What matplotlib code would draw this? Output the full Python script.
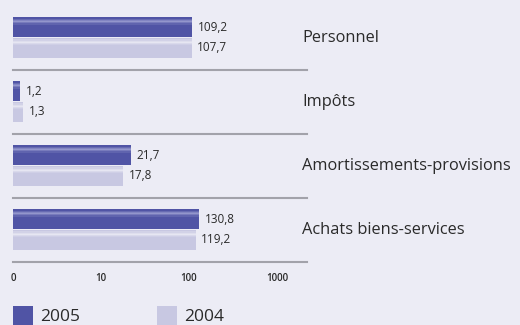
import matplotlib
matplotlib.use("Agg")
import matplotlib.pyplot as plt
from matplotlib.patches import Rectangle
import numpy as np

plt.rcParams['font.family'] = ['Open Sans', 'DejaVu Sans']

categories = ["Personnel", "Impôts", "Amortissements-provisions", "Achats biens-services"]
values_2005 = [109.2, 1.2, 21.7, 130.8]
values_2004 = [107.7, 1.3, 17.8, 119.2]
labels_2005 = ["109,2", "1,2", "21,7", "130,8"]
labels_2004 = ["107,7", "1,3", "17,8", "119,2"]
tick_values = [1, 10, 100, 1000]
tick_labels = ["0", "10", "100", "1000"]
series_names = ["2005", "2004"]

BG = "#ECECF5"
DARK = "#5054A5"
DARK_HI = "#9396CC"
LIGHT = "#C8C8E2"
LIGHT_HI = "#E6E6F2"
RULE = "#A2A2AA"
TEXT = "#2A2A2A"

W, H = 520, 325
fig = plt.figure(figsize=(W / 100, H / 100), dpi=100, facecolor=BG)

ax_left, ax_right = 13, 307
ax_top, ax_bottom = 5.5, 261.5
ax = fig.add_axes([ax_left / W, 1 - ax_bottom / H,
                   (ax_right - ax_left) / W, (ax_bottom - ax_top) / H])
ax.set_facecolor(BG)
ax.set_xscale("log")
BASE = 1  # the "0" end of the log axis
ax.set_xlim(BASE, 10 ** (294 / 88))
ax.set_ylim(3.5, -0.5)

y = np.arange(len(categories))
bh = 0.305
off = 0.163


def glossy_bars(ypos, vals, base, hi):
    widths = [v - BASE for v in vals]
    ax.barh(ypos, widths, height=bh, left=BASE, color=base, linewidth=0, zorder=2)
    # soft highlight band near the top edge of each bar
    top = ypos - bh / 2
    band = [(0.10, 0.35), (0.16, 0.75), (0.22, 1.0), (0.28, 0.6), (0.34, 0.25)]
    for frac, a in band:
        ax.barh(top + frac * bh, widths, height=bh * 0.07, left=BASE, color=hi,
                alpha=a, linewidth=0, zorder=3)


glossy_bars(y - off, values_2005, DARK, DARK_HI)
glossy_bars(y + off, values_2004, LIGHT, LIGHT_HI)

for yi, v, lab in zip(y - off, values_2005, labels_2005):
    ax.annotate(lab, (v, yi), xytext=(4, 0), textcoords="offset points",
                va="center", ha="left", fontsize=8.5, color=TEXT)
for yi, v, lab in zip(y + off, values_2004, labels_2004):
    ax.annotate(lab, (v, yi), xytext=(4, 0), textcoords="offset points",
                va="center", ha="left", fontsize=8.5, color=TEXT)

for yi, cat in zip(y, categories):
    ax.text((302 - ax_left) / (ax_right - ax_left), yi, cat,
            transform=ax.get_yaxis_transform(), ha="left", va="center",
            fontsize=11.8, color=TEXT, clip_on=False)

for yi in y + 0.5:
    ax.axhline(yi, color=RULE, linewidth=1.5, zorder=1, clip_on=False)

ax.set_xticks(tick_values)
ax.set_xticklabels(tick_labels, fontsize=7, color=TEXT, fontweight="semibold")
ax.xaxis.set_minor_locator(matplotlib.ticker.NullLocator())
ax.tick_params(axis="x", length=0, pad=8)
ax.set_yticks([])
for s in ax.spines.values():
    s.set_visible(False)

# legend swatches
for x0, color, name in [(13, DARK, series_names[0]), (157, LIGHT, series_names[1])]:
    fig.patches.append(Rectangle((x0 / W, 0), 20 / W, 19 / H, transform=fig.transFigure,
                                 facecolor=color, edgecolor="none"))
    fig.text((x0 + 27) / W, 4 / H, name, ha="left", va="baseline",
             fontsize=12.5, color=TEXT)

fig.savefig("out.png", dpi=100, facecolor=BG)
